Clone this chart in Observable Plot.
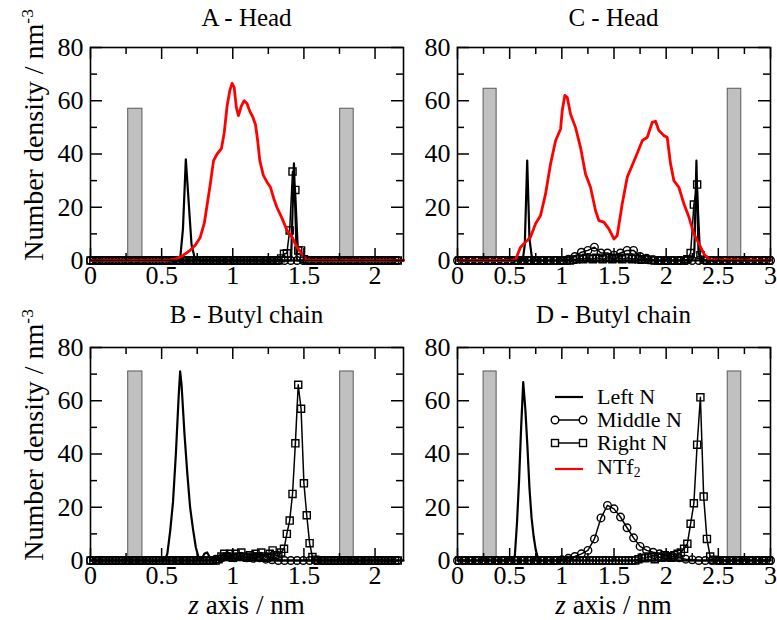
<!DOCTYPE html>
<html><head><meta charset="utf-8">
<script src="https://cdn.jsdelivr.net/npm/d3@7"></script>
<script src="https://cdn.jsdelivr.net/npm/@observablehq/plot@0.6"></script>
<style>
body{margin:0;background:#fff;}
#root{position:relative;width:777px;height:620px;font-family:'Liberation Serif', serif;color:#000;overflow:hidden;}
.panel{position:absolute;}
.lbl{position:absolute;white-space:nowrap;line-height:1;font-size:26px;font-family:'Liberation Serif', serif;}
.lbl sup{font-size:0.62em;vertical-align:0.6em;line-height:0;}
.lbl sub{font-size:0.62em;vertical-align:-0.25em;line-height:0;}
</style></head><body><div id="root"></div>
<script>
// ---------- data ----------
const panelTitles = ["A - Head", "C - Head", "B - Butyl chain", "D - Butyl chain"];
const xTicksAB = [0, 0.5, 1, 1.5, 2];
const xMinorAB = [0.25, 0.75, 1.25, 1.75];
const xTicksCD = [0, 0.5, 1, 1.5, 2, 2.5, 3];
const xMinorCD = [0.25, 0.75, 1.25, 1.75, 2.25, 2.75];
const yTicks = [0, 20, 40, 60, 80];
const yMinor = [10, 30, 50, 70];

// sampling grids (bin positions, nm)
const zRightAB = d3.range(109).map(i => +(0.02 * i).toFixed(3));
const zMiddleAB = d3.range(50).map(i => +(0.044 * i).toFixed(3));
const zRightCD = d3.range(96).map(i => 0.015625 + 0.03125 * i);
const zMiddleCD = d3.range(49).map(i => 0.0625 * i);

// walls (gray bars): [z1, z2, height]
const wallsA = [[0.265, 0.365, 57], [1.755, 1.85, 57]];
const wallsB = [[0.265, 0.365, 71], [1.755, 1.85, 71]];
const wallsC = [[0.25, 0.375, 64.5], [2.59, 2.72, 64.5]];
const wallsD = [[0.25, 0.375, 71], [2.59, 2.72, 71]];

// Left N (line only)
const leftA_z = [0, 0.61, 0.63, 0.65, 0.67, 0.69, 0.71, 0.73, 0.75, 0.77, 1.41, 1.43, 1.45, 2.2];
const leftA_v = [0, 0, 0.5, 12, 38, 22, 6, 1.5, 0.3, 0, 0, 36.5, 0, 0];
const leftB_z = [0, 0.52, 0.54, 0.56, 0.58, 0.60, 0.62, 0.63, 0.64, 0.66, 0.68, 0.70, 0.72, 0.74, 0.76, 0.78, 0.80, 0.82, 0.84, 0.86, 0.90, 0.94, 0.98, 1.02, 1.06, 1.10, 1.14, 2.2];
const leftB_v = [0, 0, 2.5, 11, 22, 40, 62, 71, 66, 48, 33, 20, 12, 5, 1, 0.3, 2.5, 3, 1, 0.3, 0.8, 0.3, 1, 0.5, 0.8, 0.2, 0, 0];
const leftC_z = [0, 0.625, 0.645, 0.668, 0.69, 0.715, 0.74, 2.25, 2.27, 2.29, 2.31, 2.33, 3];
const leftC_v = [0, 0, 6, 37.5, 8, 0.5, 0, 0, 3, 37.5, 3, 0, 0];
const leftD_z = [0, 0.53, 0.55, 0.57, 0.59, 0.61, 0.63, 0.65, 0.67, 0.69, 0.71, 0.73, 0.75, 0.77, 0.79, 3];
const leftD_v = [0, 0, 2, 14, 30, 50, 67, 57, 43, 27, 16, 9, 4, 1, 0, 0];

// Right N (squares) on zRight grids
const rightA = [
  0,0,0,0,0,0,0,0,0,0, 0,0,0,0,0,0,0,0,0,0, 0,0,0,0,0,0,0,0,0,0, 0,0,0,0,0,0,0,0,0,0,
  0,0,0,0,0,0,0,0,0,0, 0,0,0,0,0,0,0,0,0,0, 0,0,0,0,0,0,0,0.8,2.5,2.7,
  11.3,33.4,26.5,3.8,3.8,0.5,0,0,0,0, 0,0,0,0,0,0,0,0,0,0, 0,0,0,0,0,0,0,0,0,0, 0,0,0,0,0,0,0,0,0];
const rightB = [
  0,0,0,0,0,0,0,0,0,0, 0,0,0,0,0,0,0,0,0,0, 0,0,0,0,0,0,0,0,0,0, 0,0,0,0,0,0,0,0,0,0,
  0,0,0,0,0,0.5,1.5,2.5,1.5,2.5, 1,2.5,1.5,3,1.5,1,2,1.5,2.5,1.5, 3,1.5,1,2.5,3.8,2,1.5,3,4.4,10,
  15,25,44,66,57,29,17,6.5,1.3,0.3, 0,0,0,0,0,0,0,0,0,0, 0,0,0,0,0,0,0,0,0,0, 0,0,0,0,0,0,0,0,0];
const rightC = [
  0,0,0,0,0,0,0,0,0,0, 0,0,0,0,0,0,0,0,0,0, 0,0,0,0,0,0,0,0,0,0,
  0,0,0,0,0,0.3,0.5,0.8,0.5,1, 0.8,0.5,1,0.8,0.5,0.8,1,0.5,0.8,1, 0.5,0.8,1,0.5,0.8,0.5,0.3,0.5,0.3,0.2,
  0,0,0,0,0,0,0,0,0,0, 0.5,2.8,21,28.5,2,0.3,0,0,0,0, 0,0,0,0,0,0,0,0,0,0, 0,0,0,0,0,0];
const rightD = [
  0,0,0,0,0,0,0,0,0,0, 0,0,0,0,0,0,0,0,0,0, 0,0,0,0,0,0,0,0,0,0,
  0,0,0,0,0,0,0,0,0,0, 0,0,0,0,0,0,0,0,0,0, 0,0,0,0,0,0.5,1,0.8,1.5,1.2,
  0.5,1.5,1,2,1.5,1,2,2.5,3,4.4, 6.3,13.8,21.5,43.5,61.3,24,8.1,1.5,0.3,0, 0,0,0,0,0,0,0,0,0,0, 0,0,0,0,0,0];

// Middle N (circles) on zMiddle grids
const middleA = [
  0,0,0,0,0,0,0,0,0,0, 0,0,0,0,0,0,0,0,0,0, 0,0,0,0,0,0,0,0,0,0, 0,0,0,0,0,0,0,0,0,0, 0,0,0,0,0,0,0,0,0,0];
const middleB = [
  0,0,0,0,0,0,0,0,0,0, 0,0,0,0,0,0,0,0,0,0, 0.5,1,1.5,1,1.5,1,0.8,1,0.5,0.3, 0,0,0,0,0,0,0,0,0,0, 0,0,0,0,0,0,0,0,0,0];
const middleC = [
  0,0,0,0,0,0,0,0,0,0, 0,0,0,0,0,0,0,0.5,1.5,3.1, 3.8,5,2.8,2.8,2,2.8,3.8,3.8,1.5,0.8, 0.3,0,0,0,0,0,0,0,0,0, 0,0,0,0,0,0,0,0,0];
const middleD = [
  0,0,0,0,0,0,0,0,0,0, 0,0,0,0,0,0,0.3,0.8,1.5,2.5, 3.8,8.1,16,20.7,19.4,16.3,12.3,8.5,5.3,3.8, 3.1,2.5,2,1.5,1,0.5,0.3,0,0,0, 0,0,0,0,0,0,0,0,0];

// NTf2 (red line)
const ntfA_z = [0, 0.55, 0.60, 0.65, 0.70, 0.74, 0.77, 0.80, 0.84, 0.865, 0.89, 0.92, 0.94, 0.96, 0.98, 0.995, 1.01, 1.025, 1.04, 1.06, 1.08, 1.10, 1.12, 1.14, 1.16, 1.175, 1.19, 1.215, 1.24, 1.265, 1.29, 1.31, 1.345, 1.38, 1.42, 1.45, 1.48, 1.52, 2.2];
const ntfA_v = [0, 0, 0.6, 1.9, 3.8, 6, 8.5, 14, 28, 37.5, 40, 42, 48, 58, 64, 66.5, 65, 57.5, 54.4, 58, 60, 59, 56, 54, 51, 45, 37.5, 32, 29.5, 27.5, 23, 20, 16, 11.5, 8.5, 5, 3, 0, 0];
const ntfC_z = [0, 0.5, 0.556, 0.604, 0.652, 0.70, 0.748, 0.796, 0.844, 0.892, 0.94, 0.988, 1.004, 1.029, 1.052, 1.083, 1.131, 1.179, 1.227, 1.275, 1.323, 1.355, 1.403, 1.451, 1.499, 1.531, 1.579, 1.627, 1.707, 1.771, 1.819, 1.867, 1.898, 1.93, 1.978, 2.01, 2.042, 2.074, 2.122, 2.17, 2.218, 2.266, 2.314, 2.362, 2.41, 3];
const ntfC_v = [0, 0, 0.3, 5, 6.9, 8.8, 13.8, 16.9, 25, 36.3, 45, 49.4, 56.3, 62, 61.3, 55, 50, 42.5, 32.5, 27.5, 18.8, 15, 14.4, 11.9, 8.1, 9.4, 21.3, 31.3, 38.8, 45, 46.3, 51.9, 52.3, 48.8, 46.9, 46.3, 36.3, 30, 27.5, 21.3, 16.3, 10, 6.3, 2.5, 0.3, 0];

// ---------- drawing ----------
const FONT = "'Liberation Serif', serif";
const zip = (z, v) => z.map((d, i) => ({z: d, v: v[i]}));
const root = document.getElementById("root");

function makePanel(cfg) {
  const {left, top, width, height, mT, mB, mL, mR, xmax, xMajor, xMinor, walls, leftN, middleN, rightN, ntf} = cfg;
  const fH = height - mT - mB, fW = width - mL - mR;
  const MAJ = 12, MIN = 7, tw = 1.5;
  const marks = [
    Plot.rectY(walls, {x1: d => d[0], x2: d => d[1], y1: 0, y2: d => d[2], fill: "#c0c0c0", stroke: "#5a5a5a", strokeWidth: 1}),
    Plot.line(middleN, {x: "z", y: "v", stroke: "black", strokeWidth: 1.5}),
    Plot.dot(middleN, {x: "z", y: "v", symbol: "circle", r: 3.8, stroke: "black", fill: "none", strokeWidth: 1.4}),
    Plot.line(rightN, {x: "z", y: "v", stroke: "black", strokeWidth: 1.5}),
    Plot.dot(rightN, {x: "z", y: "v", symbol: "square", r: 4, stroke: "black", fill: "none", strokeWidth: 1.4}),
    Plot.line(leftN, {x: "z", y: "v", stroke: "black", strokeWidth: 2.2}),
  ];
  if (ntf) marks.push(Plot.line(ntf, {x: "z", y: "v", stroke: "#ff0000", strokeWidth: 2.8}));
  marks.push(
    Plot.tickX(xMajor, {x: d => d, insetTop: fH - MAJ, stroke: "black", strokeWidth: tw}),
    Plot.tickX(xMinor, {x: d => d, insetTop: fH - MIN, stroke: "black", strokeWidth: tw}),
    Plot.tickX(xMajor, {x: d => d, insetBottom: fH - MAJ, stroke: "black", strokeWidth: tw}),
    Plot.tickX(xMinor, {x: d => d, insetBottom: fH - MIN, stroke: "black", strokeWidth: tw}),
    Plot.tickY(yTicks, {y: d => d, insetRight: fW - MAJ, stroke: "black", strokeWidth: tw}),
    Plot.tickY(yMinor, {y: d => d, insetRight: fW - MIN, stroke: "black", strokeWidth: tw}),
    Plot.tickY(yTicks, {y: d => d, insetLeft: fW - MAJ, stroke: "black", strokeWidth: tw}),
    Plot.tickY(yMinor, {y: d => d, insetLeft: fW - MIN, stroke: "black", strokeWidth: tw}),
    Plot.frame({stroke: "black", strokeWidth: 1.6}),
    Plot.axisX(xMajor, {tickSize: 0, tickPadding: 5, label: null, tickFormat: d => String(d), fontSize: 26, fontFamily: FONT, fill: "black"}),
    Plot.axisY(yTicks, {tickSize: 0, tickPadding: 7, label: null, tickFormat: d => String(d), fontSize: 26, fontFamily: FONT, fill: "black"})
  );
  const svg = Plot.plot({
    width, height, marginTop: mT, marginBottom: mB, marginLeft: mL, marginRight: mR,
    x: {domain: [0, xmax]}, y: {domain: [0, 80]},
    style: {fontFamily: FONT, fontSize: "26px", background: "transparent", overflow: "visible", color: "black"},
    marks
  });
  svg.classList.add("panel");
  svg.style.position = "absolute";
  svg.style.left = left + "px";
  svg.style.top = top + "px";
  root.appendChild(svg);
}

makePanel({left: 0, top: 0, width: 410, height: 300, mT: 47, mB: 40, mL: 90, mR: 7, xmax: 2.2,
  xMajor: xTicksAB, xMinor: xMinorAB, walls: wallsA, leftN: zip(leftA_z, leftA_v),
  middleN: zip(zMiddleAB, middleA), rightN: zip(zRightAB, rightA), ntf: zip(ntfA_z, ntfA_v)});
makePanel({left: 410, top: 0, width: 367, height: 300, mT: 47, mB: 40, mL: 47, mR: 7, xmax: 3,
  xMajor: xTicksCD, xMinor: xMinorCD, walls: wallsC, leftN: zip(leftC_z, leftC_v),
  middleN: zip(zMiddleCD, middleC), rightN: zip(zRightCD, rightC), ntf: zip(ntfC_z, ntfC_v)});
makePanel({left: 0, top: 300, width: 410, height: 320, mT: 47, mB: 60, mL: 90, mR: 7, xmax: 2.2,
  xMajor: xTicksAB, xMinor: xMinorAB, walls: wallsB, leftN: zip(leftB_z, leftB_v),
  middleN: zip(zMiddleAB, middleB), rightN: zip(zRightAB, rightB), ntf: null});
makePanel({left: 410, top: 300, width: 367, height: 320, mT: 47, mB: 60, mL: 47, mR: 7, xmax: 3,
  xMajor: xTicksCD, xMinor: xMinorCD, walls: wallsD, leftN: zip(leftD_z, leftD_v),
  middleN: zip(zMiddleCD, middleD), rightN: zip(zRightCD, rightD), ntf: null});

// ---------- text ----------
function label(html, cx, cy, rot, size) {
  const d = document.createElement("div");
  d.className = "lbl";
  d.innerHTML = html;
  d.style.fontFamily = FONT;
  d.style.left = cx + "px";
  d.style.top = cy + "px";
  if (size) d.style.fontSize = size + "px";
  d.style.transform = "translate(-50%,-50%)" + (rot ? " rotate(-90deg)" : "");
  root.appendChild(d);
}
label(panelTitles[0], 246.5, 17, false, 25);
label(panelTitles[1], 613.5, 17, false, 25);
label(panelTitles[2], 246.5, 314, false, 25);
label(panelTitles[3], 613.5, 314, false, 25);
const yLab = "Number density / nm<sup>-3</sup>";
label(yLab, 34, 135, true, 28);
label(yLab, 34, 435, true, 28);
const xLab = "<i>z</i> axis / nm";
label(xLab, 246.5, 605, false, 27);
label(xLab, 613.5, 605, false, 27);

// legend (panel D)
const legendItems = [
  {name: "Left N", sym: null, color: "black"},
  {name: "Middle N", sym: "circle", color: "black"},
  {name: "Right N", sym: "square", color: "black"},
  {name: "NTf<sub>2</sub>", sym: null, color: "#ff0000"}
];
const legRows = [397, 420, 443, 467];
legendItems.forEach((it, i) => {
  const y = legRows[i];
  const ns = "http://www.w3.org/2000/svg";
  const s = document.createElementNS(ns, "svg");
  s.setAttribute("width", 40); s.setAttribute("height", 16);
  s.style.position = "absolute"; s.style.left = "549px"; s.style.top = (y - 8 + (i === 3 ? 2 : 0)) + "px";
  let inner = `<line x1="6" y1="8" x2="34" y2="8" stroke="${it.color}" stroke-width="${it.sym ? 1.5 : 2.2}"/>`;
  if (it.sym === "circle") inner += `<circle cx="6" cy="8" r="3.8" fill="white" stroke="black" stroke-width="1.4"/><circle cx="34" cy="8" r="3.8" fill="white" stroke="black" stroke-width="1.4"/>`;
  if (it.sym === "square") inner += `<rect x="2.5" y="4.5" width="7" height="7" fill="white" stroke="black" stroke-width="1.4"/><rect x="30.5" y="4.5" width="7" height="7" fill="white" stroke="black" stroke-width="1.4"/>`;
  s.innerHTML = inner;
  root.appendChild(s);
  const t = document.createElement("div");
  t.className = "lbl";
  t.style.fontFamily = FONT;
  t.style.fontSize = "22px";
  t.style.lineHeight = "20px";
  t.innerHTML = it.name;
  t.style.left = "597px";
  t.style.top = (y - 10) + "px";
  root.appendChild(t);
});
</script></body></html>
